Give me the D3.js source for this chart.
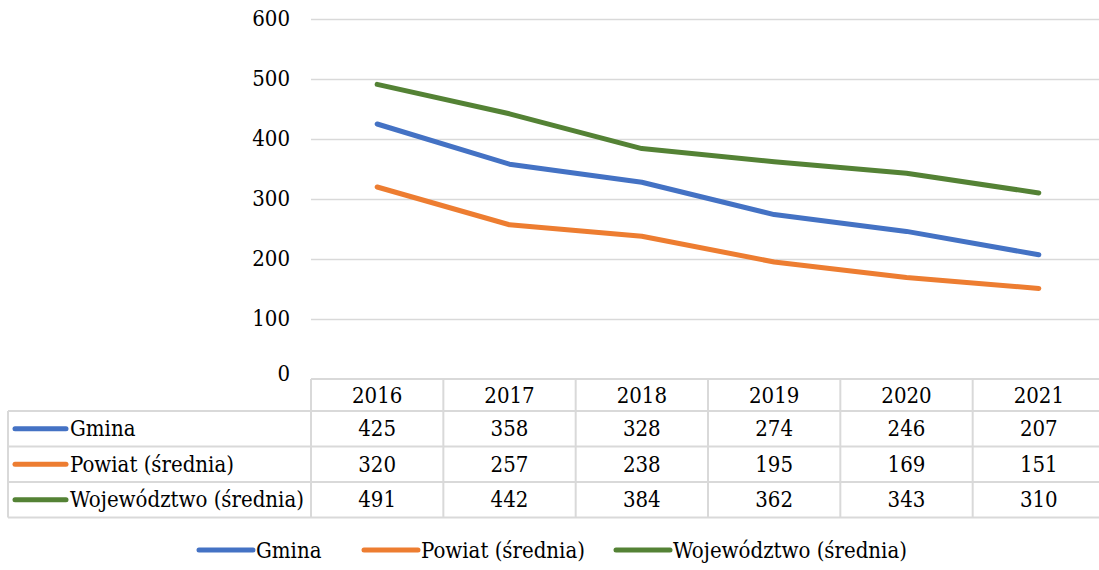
<!DOCTYPE html>
<html>
<head>
<meta charset="utf-8">
<script src="https://cdn.jsdelivr.net/npm/d3@7"></script>
<style>
    body { margin: 0; background: #fff; }
</style>
</head>
<body>
<div id="chart"></div>
<script>
// Chart data
const years = ['2016', '2017', '2018', '2019', '2020', '2021'];
const seriesNames = ['Gmina', 'Powiat (średnia)', 'Województwo (średnia)'];
const gmina = [425, 358, 328, 274, 246, 207];
const powiat = [320, 257, 238, 195, 169, 151];
const wojewodztwo = [491, 442, 384, 362, 343, 310];
const yTicks = [0, 100, 200, 300, 400, 500, 600];
const colors = ['#4472C4', '#ED7D31', '#548235'];

const series = seriesNames.map((name, i) => ({
    name,
    color: colors[i],
    values: [gmina, powiat, wojewodztwo][i]
}));

const width = 1099;
const height = 570;
const fontSize = 22;
// Liberation Serif is not picked up here, DejaVu Serif Condensed is close to Times in width
const serif = "'DejaVu Serif Condensed', 'DejaVu Serif', serif";

const svg = d3.select('#chart')
    .append('svg')
    .attr('width', width)
    .attr('height', height)
    .style('display', 'block');

// Scales
const x = d3.scaleBand()
    .domain(years)
    .range([311, 1105]);

const y = d3.scaleLinear()
    .domain([0, 600])
    .range([379, 19]);

// Gridlines + y labels
const yAxis = svg.append('g')
    .attr('transform', 'translate(311,0)')
    .call(d3.axisLeft(y).tickValues(yTicks).tickSize(-(1105 - 311)).tickPadding(21));

yAxis.select('.domain').remove();
yAxis.selectAll('.tick line')
    .attr('stroke', '#d9d9d9')
    .attr('stroke-width', 1.5)
    .attr('display', d => d === 0 ? 'none' : null);
yAxis.selectAll('.tick text')
    .attr('fill', '#000')
    .attr('dy', '0.3em');
yAxis.selectAll('.tick')
    .filter(d => d === 0)
    .select('text')
    .attr('dy', '0.05em');

// Lines
const line = d3.line()
    .x((d, i) => x(years[i]) + x.bandwidth() / 2)
    .y(d => y(d));

svg.append('g')
    .selectAll('path')
    .data(series)
    .join('path')
    .attr('d', d => line(d.values))
    .attr('fill', 'none')
    .attr('stroke', d => d.color)
    .attr('stroke-width', 5)
    .attr('stroke-linejoin', 'round')
    .attr('stroke-linecap', 'round');

// Data table
const tableTop = 379;
const headerBottom = 411;
const rowH = 35.5;
const tableLeft = 8;
const gridColor = '#d9d9d9';
const table = svg.append('g');

const rowsBottom = headerBottom + rowH * series.length;

// horizontal lines
table.append('line')
    .attr('x1', 311).attr('x2', 1105)
    .attr('y1', tableTop).attr('y2', tableTop);
d3.range(series.length + 1).forEach(i => {
    table.append('line')
        .attr('x1', tableLeft).attr('x2', 1105)
        .attr('y1', headerBottom + rowH * i).attr('y2', headerBottom + rowH * i);
});
// vertical lines
table.append('line')
    .attr('x1', tableLeft).attr('x2', tableLeft)
    .attr('y1', headerBottom).attr('y2', rowsBottom);
years.forEach(yr => {
    table.append('line')
        .attr('x1', x(yr)).attr('x2', x(yr))
        .attr('y1', tableTop).attr('y2', rowsBottom);
});
table.selectAll('line')
    .attr('stroke', gridColor)
    .attr('stroke-width', 2);

// header labels
table.selectAll('.yr')
    .data(years)
    .join('text')
    .attr('class', 'yr')
    .attr('x', d => x(d) + x.bandwidth() / 2)
    .attr('y', (tableTop + headerBottom) / 2)
    .attr('dy', '0.35em')
    .attr('text-anchor', 'middle')
    .text(d => d);

// rows
series.forEach((s, i) => {
    const cy = headerBottom + rowH * i + rowH / 2;
    table.append('line')
        .attr('x1', 15).attr('x2', 66)
        .attr('y1', cy).attr('y2', cy)
        .attr('stroke', s.color)
        .attr('stroke-width', 5)
        .attr('stroke-linecap', 'round');
    table.append('text')
        .attr('x', 70)
        .attr('y', cy)
        .attr('dy', '0.35em')
        .text(s.name);
    table.selectAll('.v' + i)
        .data(s.values)
        .join('text')
        .attr('x', (d, j) => x(years[j]) + x.bandwidth() / 2)
        .attr('y', cy)
        .attr('dy', '0.35em')
        .attr('text-anchor', 'middle')
        .text(d => d);
});

// Legend
const legendX = [199, 364, 616];
const legend = svg.append('g')
    .selectAll('g')
    .data(series)
    .join('g')
    .attr('transform', (d, i) => `translate(${legendX[i]},550)`);

legend.append('line')
    .attr('x1', 0).attr('x2', 54)
    .attr('stroke', d => d.color)
    .attr('stroke-width', 5)
    .attr('stroke-linecap', 'round');

legend.append('text')
    .attr('x', 57)
    .attr('dy', '0.35em')
    .text(d => d.name);

// Serif font on every label
svg.selectAll('g').attr('font-family', serif);
svg.selectAll('text')
    .attr('font-family', serif)
    .style('font-family', serif)
    .attr('font-size', fontSize);
</script>
</body>
</html>
